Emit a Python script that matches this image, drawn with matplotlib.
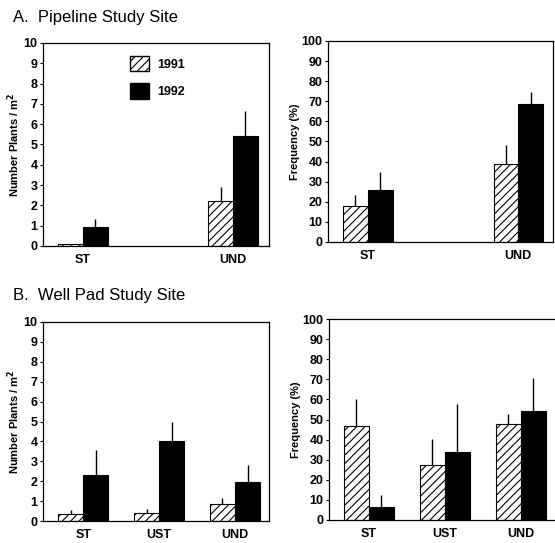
import numpy as np
import matplotlib
matplotlib.use("Agg")
import matplotlib.pyplot as plt
from matplotlib.patches import Patch

plt.rcParams['font.family'] = ['Liberation Sans Narrow', 'Liberation Sans', 'DejaVu Sans']
plt.rcParams['hatch.linewidth'] = 0.8

years = ["1991", "1992"]

# A. Pipeline study site
pipe_cats = ["ST", "UND"]
pipe_dens_91 = [0.08, 2.2]
pipe_dens_91_err = [0.0, 0.7]
pipe_dens_92 = [0.92, 5.4]
pipe_dens_92_err = [0.4, 1.27]
pipe_freq_91 = [17.8, 38.7]
pipe_freq_91_err = [5.5, 9.7]
pipe_freq_92 = [25.7, 68.8]
pipe_freq_92_err = [9.3, 5.7]

# B. Well pad study site
pad_cats = ["ST", "UST", "UND"]
pad_dens_91 = [0.37, 0.42, 0.84]
pad_dens_91_err = [0.17, 0.2, 0.33]
pad_dens_92 = [2.29, 4.0, 1.96]
pad_dens_92_err = [1.29, 0.97, 0.87]
pad_freq_91 = [46.8, 27.4, 47.7]
pad_freq_91_err = [13.4, 12.7, 5.2]
pad_freq_92 = [6.7, 33.6, 54.3]
pad_freq_92_err = [5.5, 24.1, 16.2]

W, H = 555, 543
fig = plt.figure(figsize=(W / 100, H / 100), dpi=100)


def px_axes(left, right, top, bottom):
    return fig.add_axes((left / W, 1 - bottom / H, (right - left) / W, (bottom - top) / H))


def bar_panel(ax, cats, v91, e91, v92, e92, width, xlim, ymax, ylabel):
    x = np.arange(len(cats))
    ax.bar(x - width / 2, v91, width, facecolor='white', edgecolor='black',
           hatch='////', linewidth=0.8)
    ax.bar(x + width / 2, v92, width, color='black', edgecolor='black', linewidth=0.8)
    ax.errorbar(x - width / 2, v91, yerr=[np.zeros(len(x)), e91], fmt='none',
                ecolor='black', elinewidth=1.0, capsize=0)
    ax.errorbar(x + width / 2, v92, yerr=[np.zeros(len(x)), e92], fmt='none',
                ecolor='black', elinewidth=1.0, capsize=0)
    ax.set_xlim(*xlim)
    ax.set_ylim(0, ymax)
    ax.set_yticks(np.linspace(0, ymax, 11))
    ax.set_xticks(x)
    ax.set_xticklabels(cats, fontsize=9, fontweight='bold')
    ax.tick_params(axis='x', length=0, pad=6)
    ax.tick_params(axis='y', length=2.5, width=0.8, pad=1.5, labelsize=9)
    for lab in ax.get_yticklabels():
        lab.set_fontweight('bold')
    ax.set_ylabel(ylabel, fontsize=8, fontweight='bold', labelpad=1)
    for s in ax.spines.values():
        s.set_linewidth(0.9)


ax1 = px_axes(43, 269, 43, 246)
bar_panel(ax1, pipe_cats, pipe_dens_91, pipe_dens_91_err, pipe_dens_92, pipe_dens_92_err,
          0.165, (-0.267, 1.24), 10, "Number Plants / m$^\\mathbf{2}$")
ax1.legend(handles=[Patch(facecolor='white', edgecolor='black', hatch='////', label=years[0]),
                    Patch(facecolor='black', edgecolor='black', label=years[1])],
           loc='upper left', bbox_to_anchor=(0.385, 0.935), frameon=False,
           handlelength=1.5, handleheight=1.5, handletextpad=0.7, labelspacing=0.95,
           borderpad=0, borderaxespad=0, prop={'size': 9, 'weight': 'bold'})

ax2 = px_axes(328, 553, 41, 242)
bar_panel(ax2, pipe_cats, pipe_freq_91, pipe_freq_91_err, pipe_freq_92, pipe_freq_92_err,
          0.165, (-0.264, 1.23), 100, "Frequency (%)")

ax3 = px_axes(43, 269, 322, 521)
bar_panel(ax3, pad_cats, pad_dens_91, pad_dens_91_err, pad_dens_92, pad_dens_92_err,
          0.33, (-0.531, 2.448), 10, "Number Plants / m$^\\mathbf{2}$")

ax4 = px_axes(329, 555, 319, 520)
bar_panel(ax4, pad_cats, pad_freq_91, pad_freq_91_err, pad_freq_92, pad_freq_92_err,
          0.33, (-0.527, 2.452), 100, "Frequency (%)")
ax4.spines['right'].set_visible(False)

fig.text(13 / W, 1 - 22 / H, "A.  Pipeline Study Site", fontsize=12,
         family=['Liberation Sans', 'DejaVu Sans'], va='baseline')
fig.text(13 / W, 1 - 300 / H, "B.  Well Pad Study Site", fontsize=12,
         family=['Liberation Sans', 'DejaVu Sans'], va='baseline')

fig.savefig("out.png", dpi=100, facecolor='white')
